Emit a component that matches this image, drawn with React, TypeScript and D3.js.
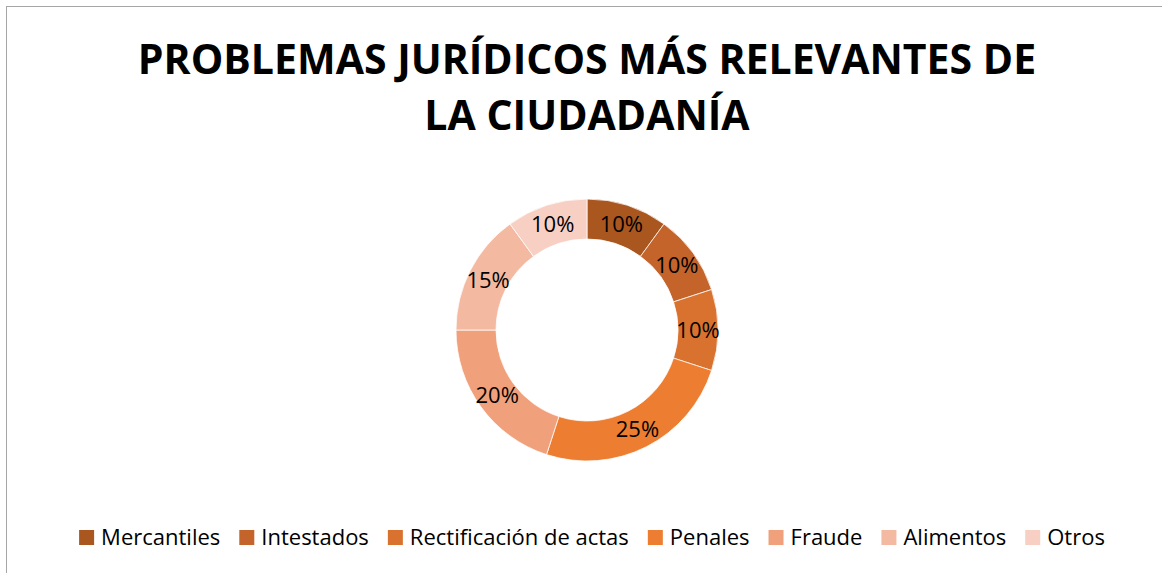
import React, { useRef, useEffect } from 'react';
import * as d3 from 'd3';

const width = 1162;
const height = 573;

const categories = ['Mercantiles', 'Intestados', 'Rectificación de actas', 'Penales', 'Fraude', 'Alimentos', 'Otros'];
const values = [10, 10, 10, 25, 20, 15, 10];
const colors = ['#A9561F', '#C4632A', '#D9722F', '#ED7D31', '#F0A07A', '#F4B9A1', '#F8CFC3'];
const titleLines = ['PROBLEMAS JURÍDICOS MÁS RELEVANTES DE', 'LA CIUDADANÍA'];

const font = '"Open Sans", sans-serif';

export default function App() {
    const svgRef = useRef<SVGSVGElement>(null);

    useEffect(() => {
        const svg = d3.select(svgRef.current);
        svg.selectAll('*').remove();

        // chart frame
        svg.append('rect')
            .attr('x', 6.5).attr('y', 6.5)
            .attr('width', width).attr('height', height)
            .attr('fill', '#fff')
            .attr('stroke', '#a6a6a6')
            .attr('stroke-width', 1);

        svg.append('g')
            .selectAll('text')
            .data(titleLines)
            .join('text')
            .attr('x', 587)
            .attr('y', (d, i) => 74 + i * 56)
            .attr('text-anchor', 'middle')
            .attr('font-family', font)
            .attr('font-weight', 700)
            .attr('font-size', 41)
            .attr('fill', '#000')
            .text(d => d);

        const cx = 587, cy = 330;
        const outerR = 131, innerR = 91;

        const pie = d3.pie<number>().sort(null).value(d => d);
        const arcs = pie(values);
        const arc = d3.arc<d3.PieArcDatum<number>>().innerRadius(innerR).outerRadius(outerR);

        const g = svg.append('g').attr('transform', `translate(${cx},${cy})`);
        g.selectAll('path')
            .data(arcs)
            .join('path')
            .attr('d', arc)
            .attr('fill', (d, i) => colors[i])
            .attr('stroke', '#fff')
            .attr('stroke-width', 0.75);

        const total = d3.sum(values);
        g.selectAll('text')
            .data(arcs)
            .join('text')
            .attr('transform', d => `translate(${arc.centroid(d)})`)
            .attr('text-anchor', 'middle')
            .attr('dy', '0.36em')
            .attr('font-family', font)
            .attr('font-size', 22)
            .attr('fill', '#000')
            .text(d => `${Math.round(d.data / total * 100)}%`);

        // legend, centred under the chart
        const legend = svg.append('g');
        const items = legend.selectAll('g')
            .data(categories)
            .join('g');
        items.append('rect')
            .attr('width', 15).attr('height', 15)
            .attr('y', -15)
            .attr('fill', (d, i) => colors[i]);
        items.append('text')
            .attr('x', 22)
            .attr('font-family', font)
            .attr('font-size', 22)
            .attr('fill', '#000')
            .text(d => d);

        let xPos = 0;
        const gap = 19;
        items.each(function () {
            const w = (d3.select(this).select('text').node() as SVGTextElement).getComputedTextLength();
            d3.select(this).attr('transform', `translate(${xPos},0)`);
            xPos += 22 + w + gap;
        });
        const legendWidth = xPos - gap;
        legend.attr('transform', `translate(${592 - legendWidth / 2},545)`);
    }, []);

    return (
        <svg width={width} height={height} ref={svgRef} style={{ position: 'absolute', left: 0, top: 0 }}></svg>
    );
}
